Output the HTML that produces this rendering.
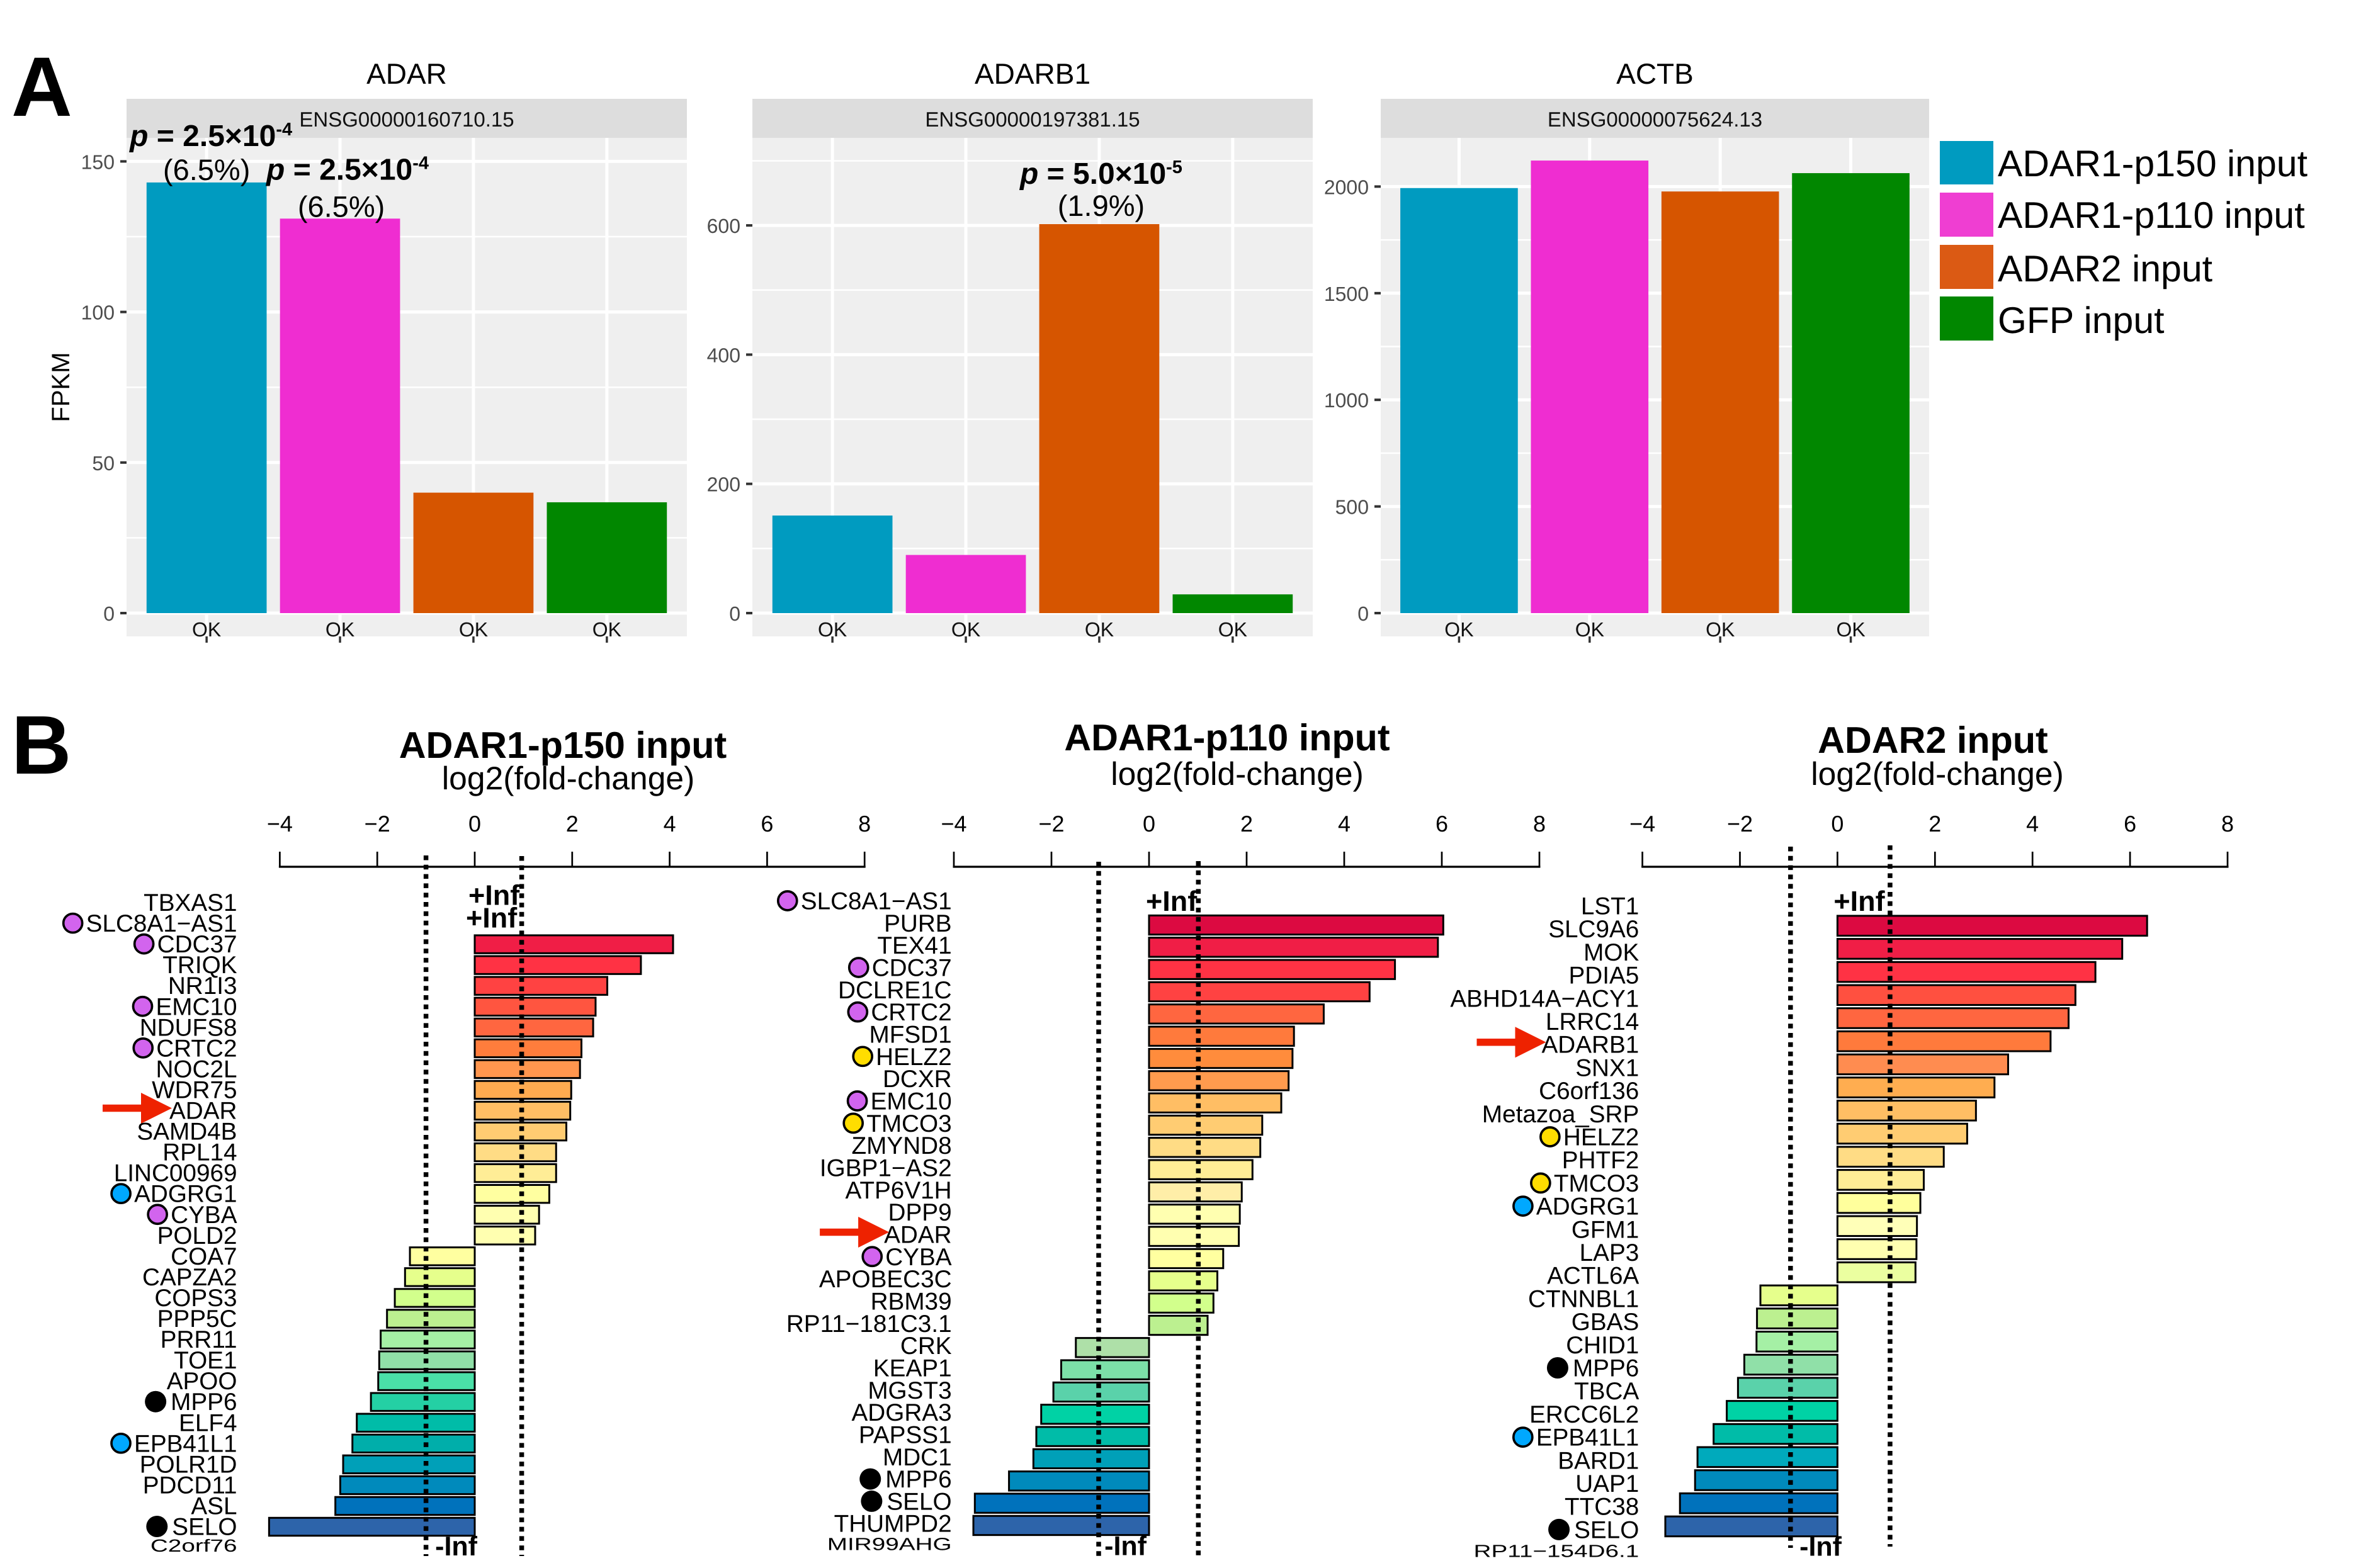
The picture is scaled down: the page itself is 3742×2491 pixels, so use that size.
<!DOCTYPE html>
<html lang="en">
<head>
<meta charset="utf-8">
<title>ADAR expression and fold-change figure</title>
<style>
  html, body { margin: 0; padding: 0; background: #fff; }
  svg { display: block; font-family: "Liberation Sans", sans-serif; text-rendering: geometricPrecision; }
</style>
</head>
<body>
<svg id="figure" xmlns="http://www.w3.org/2000/svg" width="3742" height="2491" viewBox="0 0 3742 2491">
  <rect x="0" y="0" width="3742" height="2491" fill="#fff"/>
  <text x="18" y="184" font-size="134" font-weight="700">A</text>
  <text x="18" y="1229" font-size="132" font-weight="700">B</text>
  <text transform="translate(110 615) rotate(-90)" text-anchor="middle" font-size="40">FPKM</text>

  <g>
    <rect x="3081" y="224" width="85" height="69" fill="#009bc0"/>
    <rect x="3081" y="306" width="85" height="70" fill="#ef3ed2"/>
    <rect x="3081" y="389" width="85" height="70" fill="#db5a14"/>
    <rect x="3081" y="471" width="85" height="70" fill="#018700"/>
    <text x="3173" y="280" font-size="59">ADAR1-p150 input</text>
    <text x="3173" y="362" font-size="59">ADAR1-p110 input</text>
    <text x="3173" y="447" font-size="59">ADAR2 input</text>
    <text x="3173" y="529" font-size="59">GFP input</text>
  </g>

  <text x="894" y="1204" text-anchor="middle" font-size="59.3" font-weight="700">ADAR1-p150 input</text>
  <text x="902.5" y="1254" text-anchor="middle" font-size="51.6">log2(fold-change)</text>
  <text x="1949" y="1192" text-anchor="middle" font-size="59.3" font-weight="700">ADAR1-p110 input</text>
  <text x="1965" y="1247" text-anchor="middle" font-size="51.6">log2(fold-change)</text>
  <text x="3070" y="1196" text-anchor="middle" font-size="59.3" font-weight="700">ADAR2 input</text>
  <text x="3077" y="1247" text-anchor="middle" font-size="51.6">log2(fold-change)</text>
</svg>

<script>
/* ---------- Panel A data ---------- */
const sampleColors = ['#009bc0', '#ef2dd1', '#d65500', '#018700'];
const sampleCategory = ['OK', 'OK', 'OK', 'OK'];

const adarFpkm = [143, 131, 40, 36.8];
const adarTicks = [0, 50, 100, 150];
const adarMinorTicks = [25, 75, 125];

const adarb1Fpkm = [151, 90, 602, 29];
const adarb1Ticks = [0, 200, 400, 600];
const adarb1MinorTicks = [100, 300, 500, 700];

const actbFpkm = [1993, 2122, 1977, 2063];
const actbTicks = [0, 500, 1000, 1500, 2000];
const actbMinorTicks = [250, 750, 1250, 1750];

/* ---------- Panel B data ---------- */
const foldTicks = [-4, -2, 0, 2, 4, 6, 8];
const thresholds = [-1, 1];

const p150Genes = ['TBXAS1', 'SLC8A1\u2212AS1', 'CDC37', 'TRIQK', 'NR1I3', 'EMC10', 'NDUFS8', 'CRTC2', 'NOC2L', 'WDR75', 'ADAR', 'SAMD4B', 'RPL14', 'LINC00969', 'ADGRG1', 'CYBA', 'POLD2', 'COA7', 'CAPZA2', 'COPS3', 'PPP5C', 'PRR11', 'TOE1', 'APOO', 'MPP6', 'ELF4', 'EPB41L1', 'POLR1D', 'PDCD11', 'ASL', 'SELO', 'C2orf76'];
const p150Fold = [Infinity, Infinity, 4.07, 3.41, 2.72, 2.48, 2.43, 2.19, 2.16, 1.98, 1.96, 1.88, 1.67, 1.67, 1.53, 1.32, 1.24, -1.33, -1.43, -1.64, -1.80, -1.93, -1.96, -1.98, -2.13, -2.42, -2.51, -2.70, -2.76, -2.86, -4.22, -Infinity];
const p150Colors = ['#f01e46', '#ff3244', '#ff4242', '#ff5540', '#ff6640', '#ff7d3c', '#ff964e', '#ffab50', '#ffbe64', '#ffcc72', '#ffdc85', '#ffed96', '#ffffa0', '#ffffb0', '#ffffb0', '#ffffa0', '#e6ff8c', '#d2ff8c', '#bcf090', '#a5f0a5', '#90e0a8', '#4ae0a8', '#24d0a4', '#00bca8', '#00aeaa', '#00a0b8', '#008abc', '#0072bc', '#2d64aa'];

const p110Genes = ['SLC8A1\u2212AS1', 'PURB', 'TEX41', 'CDC37', 'DCLRE1C', 'CRTC2', 'MFSD1', 'HELZ2', 'DCXR', 'EMC10', 'TMCO3', 'ZMYND8', 'IGBP1\u2212AS2', 'ATP6V1H', 'DPP9', 'ADAR', 'CYBA', 'APOBEC3C', 'RBM39', 'RP11\u2212181C3.1', 'CRK', 'KEAP1', 'MGST3', 'ADGRA3', 'PAPSS1', 'MDC1', 'MPP6', 'SELO', 'THUMPD2', 'MIR99AHG'];
const p110Fold = [Infinity, 6.03, 5.92, 5.04, 4.52, 3.58, 2.97, 2.94, 2.86, 2.71, 2.32, 2.28, 2.12, 1.90, 1.86, 1.84, 1.52, 1.40, 1.32, 1.20, -1.50, -1.80, -1.96, -2.21, -2.31, -2.37, -2.87, -3.57, -3.60, -Infinity];
const p110Colors = ['#dc0a41', '#f01e46', '#ff3244', '#ff4242', '#ff6640', '#ff7a3c', '#ff8c3c', '#ff9b4e', '#ffbe64', '#ffcc72', '#ffdc85', '#ffed96', '#ffeea8', '#ffffb0', '#ffffb0', '#ffffa0', '#e6ff8c', '#d2ff8c', '#bcf090', '#aee0a8', '#7ce0a8', '#5ad2aa', '#00d2a5', '#00bca8', '#00a0b8', '#008abc', '#0072bc', '#2d64aa'];

const adar2Genes = ['LST1', 'SLC9A6', 'MOK', 'PDIA5', 'ABHD14A\u2212ACY1', 'LRRC14', 'ADARB1', 'SNX1', 'C6orf136', 'Metazoa_SRP', 'HELZ2', 'PHTF2', 'TMCO3', 'ADGRG1', 'GFM1', 'LAP3', 'ACTL6A', 'CTNNBL1', 'GBAS', 'CHID1', 'MPP6', 'TBCA', 'ERCC6L2', 'EPB41L1', 'BARD1', 'UAP1', 'TTC38', 'SELO', 'RP11\u2212154D6.1'];
const adar2Fold = [Infinity, 6.35, 5.84, 5.29, 4.88, 4.74, 4.37, 3.50, 3.22, 2.84, 2.66, 2.18, 1.77, 1.70, 1.63, 1.62, 1.60, -1.58, -1.65, -1.66, -1.91, -2.04, -2.27, -2.54, -2.87, -2.92, -3.23, -3.53, -Infinity];
const adar2Colors = ['#dc0a41', '#f01e46', '#ff3244', '#ff5040', '#ff6640', '#ff7a3c', '#ff8c50', '#ffad50', '#ffbe64', '#ffcc72', '#ffdc85', '#ffed96', '#ffff9c', '#ffffb8', '#ffffb0', '#ebffa0', '#e6ff8c', '#bcf090', '#a5f0a5', '#90e0a8', '#5ad2aa', '#00d2a5', '#00bca8', '#00aabc', '#008abc', '#0072bc', '#2d64aa'];

const purpleGenes = ['SLC8A1\u2212AS1', 'CDC37', 'EMC10', 'CRTC2', 'CYBA'];
const blueGenes = ['ADGRG1', 'EPB41L1'];
const yellowGenes = ['HELZ2', 'TMCO3'];
const blackGenes = ['MPP6', 'SELO'];

/* ---------- Helpers ---------- */
const svg = document.getElementById('figure');
const NS = 'http://www.w3.org/2000/svg';

function make(tag, attrs, parent, content) {
  const node = document.createElementNS(NS, tag);
  for (const key in attrs) node.setAttribute(key, attrs[key]);
  if (content !== undefined) node.textContent = content;
  (parent || svg).appendChild(node);
  return node;
}
function slug(text) {
  return String(text).toLowerCase().replace(/[^a-z0-9]+/g, '-');
}

/* ---------- Panel A: expression bars ---------- */
function drawExpressionPanel(cfg) {
  const panelTop = 219, panelBottom = 1011, stripTop = 157;
  const width = cfg.right - cfg.left;
  const band = width / 4.2;
  const xCenter = i => cfg.left + band * (0.6 + i);
  const yScale = v => cfg.zeroY - v * cfg.pxPerUnit;

  const group = make('g', {});
  
  

  const background = make('rect', { x: cfg.left, y: panelTop, width: width, height: panelBottom - panelTop, fill: '#efefef' }, group);
  
  

  cfg.minorTicks.forEach(t => {
    const line = make('line', { x1: cfg.left, x2: cfg.right, y1: yScale(t), y2: yScale(t), stroke: '#fff', 'stroke-width': 2.5 }, group);
    
    
  });
  cfg.ticks.forEach(t => {
    const line = make('line', { x1: cfg.left, x2: cfg.right, y1: yScale(t), y2: yScale(t), stroke: '#fff', 'stroke-width': 5 }, group);
    
    

    const tick = make('line', { x1: cfg.left - 10, x2: cfg.left, y1: yScale(t), y2: yScale(t), stroke: '#333', 'stroke-width': 4 }, group);
    
    

    const label = make('text', { x: cfg.left - 19, y: yScale(t) + 12, 'text-anchor': 'end', 'font-size': 32, fill: '#4d4d4d' }, group, t);
    
    
  });

  cfg.values.forEach((v, i) => {
    const grid = make('line', { x1: xCenter(i), x2: xCenter(i), y1: panelTop, y2: panelBottom, stroke: '#fff', 'stroke-width': 5 }, group);
    
    
  });

  const strip = make('rect', { x: cfg.left, y: stripTop, width: width, height: panelTop - stripTop, fill: '#dddddd' }, group);
  
  

  const stripText = make('text', { x: (cfg.left + cfg.right) / 2, y: 201, 'text-anchor': 'middle', 'font-size': 33, fill: '#111' }, group, cfg.ensembl);
  
  

  const title = make('text', { x: (cfg.left + cfg.right) / 2, y: 133, 'text-anchor': 'middle', 'font-size': 46 }, group, cfg.gene);
  
  

  cfg.values.forEach((v, i) => {
    const bar = make('rect', { x: xCenter(i) - band * 0.45, y: yScale(v), width: band * 0.9, height: cfg.zeroY - yScale(v), fill: sampleColors[i] }, group);
    
    

    const tick = make('line', { x1: xCenter(i), x2: xCenter(i), y1: panelBottom, y2: panelBottom + 10, stroke: '#333', 'stroke-width': 3.5 }, group);
    
    

    const label = make('text', { x: xCenter(i), y: panelBottom, 'text-anchor': 'middle', 'font-size': 32, fill: '#111' }, group, sampleCategory[i]);
    
    
  });

  cfg.notes.forEach(note => {
    const top = yScale(cfg.values[note.bar]);
    const pText = make('text', { x: xCenter(note.bar) + note.pShift, y: top + note.pOffset, 'text-anchor': 'middle', 'font-size': 48, 'font-weight': 700 }, group);
    
    
    make('tspan', { 'font-style': 'italic' }, pText, 'p');
    make('tspan', {}, pText, ' = ' + note.mantissa + '\u00d710');
    make('tspan', { 'font-size': 29, dy: -17 }, pText, note.exponent);

    const pct = make('text', { x: xCenter(note.bar) + note.pctShift, y: top + note.pctOffset, 'text-anchor': 'middle', 'font-size': 47 }, group, note.percent);
    
    
  });
}

drawExpressionPanel({
  gene: 'ADAR', ensembl: 'ENSG00000160710.15', left: 201, right: 1091, zeroY: 974, pxPerUnit: 4.784,
  values: adarFpkm, ticks: adarTicks, minorTicks: adarMinorTicks,
  notes: [
    { bar: 0, mantissa: '2.5', exponent: '-4', percent: '(6.5%)', pOffset: -58, pctOffset: -4, pShift: 7, pctShift: 0 },
    { bar: 1, mantissa: '2.5', exponent: '-4', percent: '(6.5%)', pOffset: -62, pctOffset: -3, pShift: 12, pctShift: 2 }
  ]
});
drawExpressionPanel({
  gene: 'ADARB1', ensembl: 'ENSG00000197381.15', left: 1195, right: 2085, zeroY: 974, pxPerUnit: 1.0265,
  values: adarb1Fpkm, ticks: adarb1Ticks, minorTicks: adarb1MinorTicks,
  notes: [
    { bar: 2, mantissa: '5.0', exponent: '-5', percent: '(1.9%)', pOffset: -64, pctOffset: -13, pShift: 3, pctShift: 3 }
  ]
});
drawExpressionPanel({
  gene: 'ACTB', ensembl: 'ENSG00000075624.13', left: 2193, right: 3064, zeroY: 974, pxPerUnit: 0.3388,
  values: actbFpkm, ticks: actbTicks, minorTicks: actbMinorTicks,
  notes: []
});

/* ---------- Panel B: diverging fold-change bars ---------- */
function drawFoldPanel(cfg) {
  const xScale = v => cfg.zeroX + v * cfg.pxPerUnit;
  const rowY = i => cfg.firstRowY + i * cfg.rowPitch;
  const axisY = 1377;

  const group = make('g', {});
  
  

  const axis = make('line', { x1: xScale(foldTicks[0]) - 1.5, x2: xScale(foldTicks[foldTicks.length - 1]) + 1.5, y1: axisY, y2: axisY, stroke: '#000', 'stroke-width': 3.2 }, group);
  
  

  foldTicks.forEach(t => {
    const tick = make('line', { x1: xScale(t), x2: xScale(t), y1: 1353, y2: axisY, stroke: '#000', 'stroke-width': 2.7 }, group);
    
    

    const label = make('text', { x: xScale(t), y: 1321, 'text-anchor': 'middle', 'font-size': 36 }, group, String(t).replace('-', '\u2212'));
    
    
  });

  let colorIndex = 0;
  const barHeight = cfg.rowPitch * 0.86;
  cfg.genes.forEach((gene, i) => {
    const value = cfg.values[i];
    const y = rowY(i);
    if (isFinite(value)) {
      const x0 = Math.min(xScale(0), xScale(value));
      const bar = make('rect', { x: x0, y: y + cfg.barShift - barHeight / 2, width: Math.abs(xScale(value) - xScale(0)), height: barHeight, fill: cfg.colors[colorIndex], stroke: '#000', 'stroke-width': 3 }, group);
      
      
      colorIndex += 1;
    }

    const isLast = i === cfg.genes.length - 1;
    const labelY = isLast ? y - 3 : y;
    const label = make('text', { 'text-anchor': 'end', 'font-size': 38.7 }, group, gene);
    
    
    if (isLast) {
      label.setAttribute('transform', 'translate(' + cfg.labelRight + ' ' + (labelY + 10) + ') scale(1 0.72)');
    } else {
      label.setAttribute('x', cfg.labelRight);
      label.setAttribute('y', labelY + 13.5);
    }
    const textLeft = cfg.labelRight - label.getComputedTextLength();

    let dotFill = null;
    if (purpleGenes.includes(gene)) dotFill = '#d264ee';
    if (blueGenes.includes(gene)) dotFill = '#00a8ff';
    if (yellowGenes.includes(gene)) dotFill = '#ffdd00';
    if (blackGenes.includes(gene)) dotFill = '#000';
    if (dotFill) {
      const isBlack = dotFill === '#000';
      const dot = make('circle', { cx: textLeft - (isBlack ? 24 : 21), cy: y, r: isBlack ? 17 : 15, fill: dotFill, stroke: '#000', 'stroke-width': isBlack ? 0 : 3.7 }, group);
      
      
    }

    if (gene === cfg.arrowGene) {
      const tip = textLeft + cfg.arrowNudge;
      const cy = y - 3.5;
      const points = [
        [tip - 110, cy - 5.75], [tip - 49, cy - 5.75], [tip - 49, cy - 24.5], [tip, cy],
        [tip - 49, cy + 24.5], [tip - 49, cy + 5.75], [tip - 110, cy + 5.75]
      ].map(p => p.join(',')).join(' ');
      const arrow = make('polygon', { points: points, fill: '#ee2200' }, group);
      
      
    }
  });

  cfg.genes.forEach((gene, i) => {
    const value = cfg.values[i];
    if (isFinite(value)) return;
    const positive = value > 0;
    const offsets = positive ? cfg.plusInfOffsets[i] : cfg.minusInfOffset;
    const inf = make('text', {
      x: xScale(0) + offsets[0], y: rowY(i) + offsets[1],
      'text-anchor': positive ? 'start' : 'end', 'font-size': positive ? 45 : 43, 'font-weight': 700
    }, group, positive ? '+Inf' : '-Inf');
    
    
  });

  thresholds.forEach((t, k) => {
    const lineX = xScale(t) + cfg.thresholdNudge[k];
    const line = make('line', {
      x1: lineX, x2: lineX, y1: cfg.thresholdTop[k], y2: cfg.thresholdBottom[k],
      stroke: '#000', 'stroke-width': 7.5, 'stroke-dasharray': '7.5 7.3'
    }, group);
    
    
  });
}

drawFoldPanel({
  name: 'adar1-p150', zeroX: 754, pxPerUnit: 77.4, firstRowY: 1433.5, rowPitch: 33.05, labelRight: 376.5, barShift: 0.5, arrowNudge: 4,
  genes: p150Genes, values: p150Fold, colors: p150Colors, arrowGene: 'ADAR',
  plusInfOffsets: [[-10, 4], [-14, 7]], minusInfOffset: [4, 13],
  thresholdTop: [1359, 1360], thresholdBottom: [2472, 2472], thresholdNudge: [0, -2.8]
});
drawFoldPanel({
  name: 'adar1-p110', zeroX: 1825, pxPerUnit: 77.5, firstRowY: 1431, rowPitch: 35.33, labelRight: 1511.6, barShift: 3.2, arrowNudge: 8,
  genes: p110Genes, values: p110Fold, colors: p110Colors, arrowGene: 'ADAR',
  plusInfOffsets: [[-5, 16]], minusInfOffset: [-4, 15],
  thresholdTop: [1369, 1368], thresholdBottom: [2476, 2476], thresholdNudge: [-2.5, 0.8]
});
drawFoldPanel({
  name: 'adar2', zeroX: 2918.4, pxPerUnit: 77.45, firstRowY: 1439, rowPitch: 36.7, labelRight: 2603.3, barShift: -5, arrowNudge: 7,
  genes: adar2Genes, values: adar2Fold, colors: adar2Colors, arrowGene: 'ADARB1',
  plusInfOffsets: [[-6, 8]], minusInfOffset: [6.6, 5],
  thresholdTop: [1345, 1343], thresholdBottom: [2459, 2457], thresholdNudge: [2.9, 6.1]
});
</script>
</body>
</html>
